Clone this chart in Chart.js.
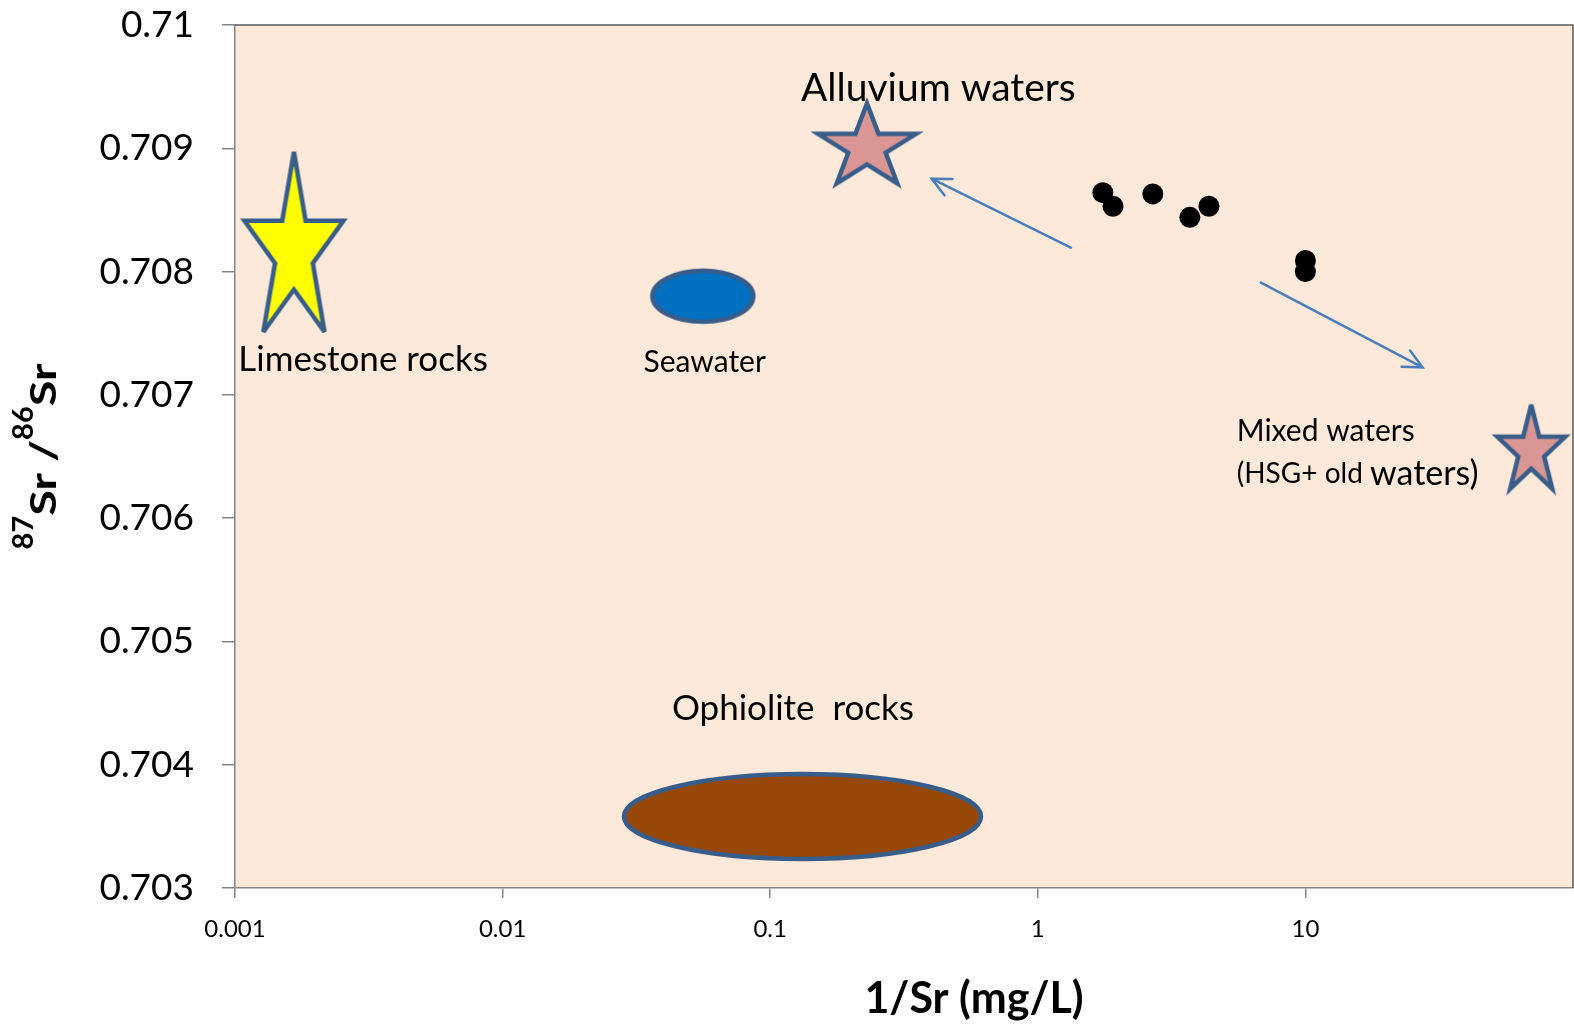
<!DOCTYPE html>
<html>
<head>
<meta charset="utf-8">
<title>87Sr/86Sr vs 1/Sr</title>
<script src="https://cdn.jsdelivr.net/npm/chart.js@4.4.1/dist/chart.umd.min.js"></script>
<style>
  html, body { margin: 0; padding: 0; background: #fff; }
</style>
</head>
<body>
<canvas id="chartSr" width="1574" height="1025"></canvas>
<script>
// Water samples: 1/Sr (mg/L) and 87Sr/86Sr
const sampleInvSr = [1.75, 1.91, 2.69, 3.70, 4.36, 10.0, 10.0];
const sampleRatio = [0.70864, 0.70853, 0.70863, 0.70844, 0.70853, 0.70809, 0.70800];

// End-members (centre of each symbol)
const endNames = ['Limestone rocks', 'Alluvium waters', 'Mixed waters', 'Seawater', 'Ophiolite rocks'];
const endInvSr = [0.00166, 0.230, 69.8, 0.0560, 0.132];
const endRatio = [0.70824, 0.70904, 0.70658, 0.70780, 0.70358];

// Mixing arrows (tail -> head)
const arrowFromX = [1.34, 6.76];
const arrowFromY = [0.70819, 0.707915];
const arrowToX = [0.401, 27.4];
const arrowToY = [0.708753, 0.707223];

// Axes
const xTicks = [0.001, 0.01, 0.1, 1, 10];
const xMin = 0.001, xMax = 100;
const yMin = 0.703, yMax = 0.71, yStep = 0.001;

const OUTLINE = '#385D8A';
const ARROW = '#4A7EBB';
const FONT = 'Lato, "Open Sans", sans-serif';

// Shape markers drawn on offscreen canvases, used as pointStyle
function starMarker(w, h, fill) {
  const m = 14;
  const c = document.createElement('canvas');
  c.width = w + 2 * m;
  c.height = h + 2 * m;
  const g = c.getContext('2d');
  g.beginPath();
  for (let i = 0; i < 10; i++) {
    const a = -Math.PI / 2 + i * Math.PI / 5;
    const r = i % 2 ? 0.382 : 1;
    const px = m + (r * Math.cos(a) + 0.951) / 1.902 * w;
    const py = m + (r * Math.sin(a) + 1) / 1.809 * h;
    i ? g.lineTo(px, py) : g.moveTo(px, py);
  }
  g.closePath();
  g.fillStyle = fill;
  g.fill();
  g.lineWidth = 4.5;
  g.lineJoin = 'miter';
  g.miterLimit = 4;
  g.strokeStyle = OUTLINE;
  g.stroke();
  return c;
}

function ellipseMarker(w, h, fill) {
  const m = 6;
  const c = document.createElement('canvas');
  c.width = w + 2 * m;
  c.height = h + 2 * m;
  const g = c.getContext('2d');
  g.beginPath();
  g.ellipse(m + w / 2, m + h / 2, w / 2, h / 2, 0, 0, Math.PI * 2);
  g.fillStyle = fill;
  g.fill();
  g.lineWidth = 4.5;
  g.strokeStyle = OUTLINE;
  g.stroke();
  return c;
}

const endMarkers = [
  starMarker(99, 180, '#FFFF00'),
  starMarker(98, 80, '#D99694'),
  starMarker(68, 84, '#D99694'),
  ellipseMarker(101, 51, '#0070C0'),
  ellipseMarker(357, 85, '#974806')
];

// Text labels placed in data space
const notes = [
  { x: 0.425, y: 0.709487, align: 'center', parts: [['Alluvium waters', 39]] },
  { x: 0.00301, y: 0.707288, align: 'center', parts: [['Limestone rocks', 35]] },
  { x: 0.0569, y: 0.707264, align: 'center', parts: [['Seawater', 30]] },
  { x: 0.1216, y: 0.704455, align: 'center', parts: [['Ophiolite  rocks', 35]] },
  { x: 5.54, y: 0.706702, align: 'left', parts: [['Mixed waters', 30]] },
  { x: 5.54, y: 0.70636, align: 'left', parts: [['(HSG+ old ', 28], ['waters)', 34]] }
];

const plotFrame = {
  id: 'plotFrame',
  beforeDraw(chart) {
    const { ctx, chartArea: a } = chart;
    ctx.save();
    ctx.fillStyle = '#FDE9D9';
    ctx.fillRect(a.left, a.top, a.right - a.left, a.bottom - a.top);
    ctx.restore();
  },
  afterDraw(chart) {
    const { ctx, chartArea: a } = chart;
    ctx.save();
    ctx.strokeStyle = '#595959';
    ctx.lineWidth = 1.5;
    ctx.beginPath();
    ctx.moveTo(a.left, a.top);
    ctx.lineTo(a.right, a.top);
    ctx.lineTo(a.right, a.bottom);
    ctx.stroke();
    ctx.restore();
  }
};

const arrowHeads = {
  id: 'arrowHeads',
  afterDatasetsDraw(chart) {
    const ctx = chart.ctx;
    chart.data.datasets.forEach((ds, i) => {
      if (!ds.arrowHead) return;
      const pts = chart.getDatasetMeta(i).data;
      const p0 = pts[pts.length - 2], p1 = pts[pts.length - 1];
      const ang = Math.atan2(p1.y - p0.y, p1.x - p0.x);
      const len = 21, spread = 0.45;
      ctx.save();
      ctx.strokeStyle = ds.borderColor;
      ctx.lineWidth = ds.borderWidth;
      ctx.lineCap = 'round';
      ctx.beginPath();
      ctx.moveTo(p1.x - len * Math.cos(ang - spread), p1.y - len * Math.sin(ang - spread));
      ctx.lineTo(p1.x, p1.y);
      ctx.lineTo(p1.x - len * Math.cos(ang + spread), p1.y - len * Math.sin(ang + spread));
      ctx.stroke();
      ctx.restore();
    });
  }
};

const noteLabels = {
  id: 'noteLabels',
  afterDatasetsDraw(chart) {
    const { ctx, scales: { x, y } } = chart;
    ctx.save();
    ctx.fillStyle = '#000';
    ctx.textBaseline = 'middle';
    ctx.textAlign = 'left';
    notes.forEach(n => {
      const widths = n.parts.map(([t, s]) => { ctx.font = `${s}px ${FONT}`; return ctx.measureText(t).width; });
      const total = widths.reduce((a, b) => a + b, 0);
      let px = x.getPixelForValue(n.x) - (n.align === 'center' ? total / 2 : 0);
      const py = y.getPixelForValue(n.y);
      n.parts.forEach(([t, s], k) => {
        ctx.font = `${s}px ${FONT}`;
        ctx.fillText(t, px, py);
        px += widths[k];
      });
    });
    ctx.restore();
  }
};

// Axis titles (y title has superscript isotope numbers, drawn wide)
const axisTitles = {
  id: 'axisTitles',
  afterDraw(chart) {
    const { ctx, chartArea: a } = chart;
    ctx.save();
    ctx.fillStyle = '#000';
    ctx.textBaseline = 'alphabetic';
    ctx.textAlign = 'center';
    ctx.font = `bold 43px ${FONT}`;
    ctx.fillText('1/Sr (mg/L)', (a.left + a.right) / 2 + 70, chart.height - 12);

    const parts = [['87', true], ['Sr /', false], ['86', true], ['Sr', false]];
    const big = `bold 36px ${FONT}`, small = `bold 29px ${FONT}`;
    const stretch = 1.3;
    const widths = parts.map(([t, sup]) => {
      ctx.font = sup ? small : big;
      return ctx.measureText(t).width * (sup ? 1 : stretch);
    });
    const total = widths.reduce((s, w) => s + w, 0);
    ctx.translate(56, (a.top + a.bottom) / 2);
    ctx.rotate(-Math.PI / 2);
    ctx.textAlign = 'left';
    let px = -total / 2;
    parts.forEach(([t, sup], k) => {
      ctx.save();
      ctx.font = sup ? small : big;
      if (sup) {
        ctx.fillText(t, px, -23);
      } else {
        ctx.translate(px, 0);
        ctx.scale(stretch, 1);
        ctx.fillText(t, 0, 0);
      }
      ctx.restore();
      px += widths[k];
    });
    ctx.restore();
  }
};

const axisGrid = { drawOnChartArea: false, color: '#868686', lineWidth: 1.5 };

new Chart(document.getElementById('chartSr'), {
  type: 'scatter',
  data: {
    datasets: [
      {
        label: 'Samples',
        data: sampleInvSr.map((v, i) => ({ x: v, y: sampleRatio[i] })),
        pointRadius: 10.5,
        pointBackgroundColor: '#000',
        pointBorderWidth: 0
      },
      ...arrowFromX.map((v, i) => ({
        label: 'arrow ' + (i + 1),
        data: [{ x: v, y: arrowFromY[i] }, { x: arrowToX[i], y: arrowToY[i] }],
        showLine: true,
        pointRadius: 0,
        borderColor: ARROW,
        borderWidth: 2.5,
        arrowHead: true
      })),
      ...endNames.map((name, i) => ({
        label: name,
        data: [{ x: endInvSr[i], y: endRatio[i] }],
        pointStyle: endMarkers[i],
        pointRadius: 1
      }))
    ]
  },
  options: {
    responsive: false,
    animation: false,
    events: [],
    layout: { autoPadding: false, padding: { top: 25, right: 1, left: 0, bottom: 0 } },
    scales: {
      x: {
        type: 'logarithmic',
        min: xMin,
        max: xMax,
        afterBuildTicks: s => { s.ticks = xTicks.map(v => ({ value: v })); },
        afterFit: s => {
          s.height = 137;
          s.paddingLeft = 0;
          s.paddingRight = 0;
        },
        grid: { ...axisGrid, tickLength: 10 },
        border: { color: '#868686', width: 1.5 },
        ticks: {
          color: '#000',
          font: { family: FONT, size: 24 },
          padding: 17,
          maxRotation: 0,
          autoSkip: false,
          callback: v => String(v)
        }
      },
      y: {
        min: yMin,
        max: yMax,
        afterFit: s => {
          s.width = 235;
          s.paddingTop = 0;
          s.paddingBottom = 0;
        },
        grid: { ...axisGrid, tickLength: 13 },
        border: { color: '#868686', width: 1.5 },
        ticks: {
          stepSize: yStep,
          color: '#000',
          font: { family: FONT, size: 37 },
          padding: 28,
          callback: v => String(+v.toFixed(3))
        }
      }
    },
    plugins: {
      legend: { display: false },
      tooltip: { enabled: false }
    }
  },
  plugins: [plotFrame, arrowHeads, noteLabels, axisTitles]
});
</script>
</body>
</html>
